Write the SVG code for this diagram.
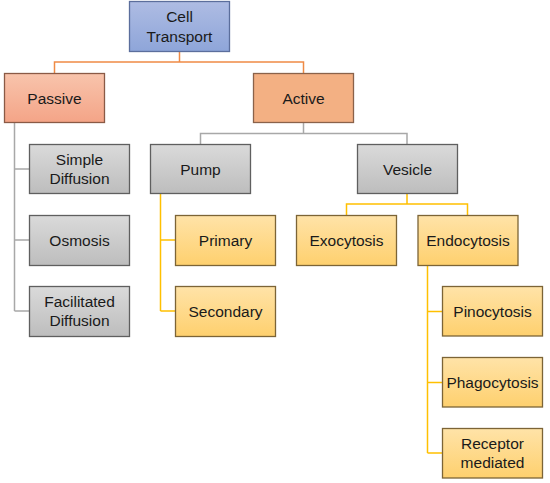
<svg xmlns="http://www.w3.org/2000/svg" width="550" height="483" viewBox="0 0 550 483">
<defs>
<linearGradient id="gBlue" x1="0" y1="0" x2="0" y2="1"><stop offset="0" stop-color="#aebce3"/><stop offset="1" stop-color="#8ea5d9"/></linearGradient>
<linearGradient id="gPassive" x1="0" y1="0" x2="0" y2="1"><stop offset="0" stop-color="#f8c4ac"/><stop offset="1" stop-color="#f4a487"/></linearGradient>
<linearGradient id="gGrey" x1="0" y1="0" x2="0" y2="1"><stop offset="0" stop-color="#dadada"/><stop offset="1" stop-color="#bdbdbd"/></linearGradient>
<linearGradient id="gYellow" x1="0" y1="0" x2="0" y2="1"><stop offset="0" stop-color="#ffe3a8"/><stop offset="1" stop-color="#fed06e"/></linearGradient>
</defs>
<style>
.n rect{stroke-width:1.3}
.blue{fill:url(#gBlue);stroke:#5b6e9c}
.passive{fill:url(#gPassive);stroke:#8a5a46}
.active{fill:#f3b083;stroke:#8a624a}
.grey{fill:url(#gGrey);stroke:#5f5f5f}
.yellow{fill:url(#gYellow);stroke:#7c6436}
text{font-family:"Liberation Sans",Arial,sans-serif;font-size:15.5px;fill:#1a1a1a;text-anchor:middle}
.c path{fill:none;stroke-width:1.5}
.or{stroke:#ef8a45}
.gr{stroke:#a8a8a8}
.ye{stroke:#ffc000}
</style>
<g class="c" id="connectors">
<path class="or" d="M179.5,51.5V62H54.5V73.5M179.5,62H303.5V73.5"/>
<path class="gr" d="M14.5,122.5V311M14.5,169H29.5M14.5,240H29.5M14.5,311H29.5"/>
<path class="gr" d="M303.5,122.5V133.5H200.5V144.5M303.5,133.5H407V144.5"/>
<path class="ye" d="M160.5,193.5V311M160.5,240H175.5M160.5,311H175.5"/>
<path class="ye" d="M407,193.5V204H346.5V215.5M407,204H467.5V215.5"/>
<path class="ye" d="M427.5,265.5V453M427.5,311.5H442.5M427.5,382.5H442.5M427.5,453H442.5"/>
</g>
<g class="n" id="cell-transport"><rect class="blue" x="129.5" y="1.5" width="100" height="50"/><text x="179.5" y="21.7">Cell</text><text x="179.5" y="41.7">Transport</text></g>
<g class="n" id="passive"><rect class="passive" x="4.5" y="73.5" width="100" height="49"/><text x="54.5" y="103.5">Passive</text></g>
<g class="n" id="active"><rect class="active" x="253.5" y="73.5" width="100" height="49"/><text x="303.5" y="103.5">Active</text></g>
<g class="n" id="simple-diffusion"><rect class="grey" x="29.5" y="144.5" width="100" height="49"/><text x="79.5" y="164.5">Simple</text><text x="79.5" y="184">Diffusion</text></g>
<g class="n" id="osmosis"><rect class="grey" x="29.5" y="215.5" width="100" height="50"/><text x="79.5" y="246">Osmosis</text></g>
<g class="n" id="facilitated-diffusion"><rect class="grey" x="29.5" y="286.5" width="100" height="50"/><text x="79.5" y="306.5">Facilitated</text><text x="79.5" y="326">Diffusion</text></g>
<g class="n" id="pump"><rect class="grey" x="150.5" y="144.5" width="100" height="49"/><text x="200.5" y="174.5">Pump</text></g>
<g class="n" id="vesicle"><rect class="grey" x="357.5" y="144.5" width="100" height="49"/><text x="407.5" y="174.5">Vesicle</text></g>
<g class="n" id="primary"><rect class="yellow" x="175.5" y="215.5" width="100" height="50"/><text x="225.5" y="246">Primary</text></g>
<g class="n" id="secondary"><rect class="yellow" x="175.5" y="286.5" width="100" height="50"/><text x="225.5" y="317">Secondary</text></g>
<g class="n" id="exocytosis"><rect class="yellow" x="296.5" y="215.5" width="100" height="50"/><text x="346.5" y="246">Exocytosis</text></g>
<g class="n" id="endocytosis"><rect class="yellow" x="418" y="215.5" width="100" height="50"/><text x="468" y="246">Endocytosis</text></g>
<g class="n" id="pinocytosis"><rect class="yellow" x="442.5" y="286.5" width="100" height="49.5"/><text x="492.5" y="317">Pinocytosis</text></g>
<g class="n" id="phagocytosis"><rect class="yellow" x="442.5" y="357.5" width="100" height="49.5"/><text x="492.5" y="388">Phagocytosis</text></g>
<g class="n" id="receptor-mediated"><rect class="yellow" x="442.5" y="428.5" width="100" height="49.5"/><text x="492.5" y="448.5">Receptor</text><text x="492.5" y="468">mediated</text></g>
</svg>
